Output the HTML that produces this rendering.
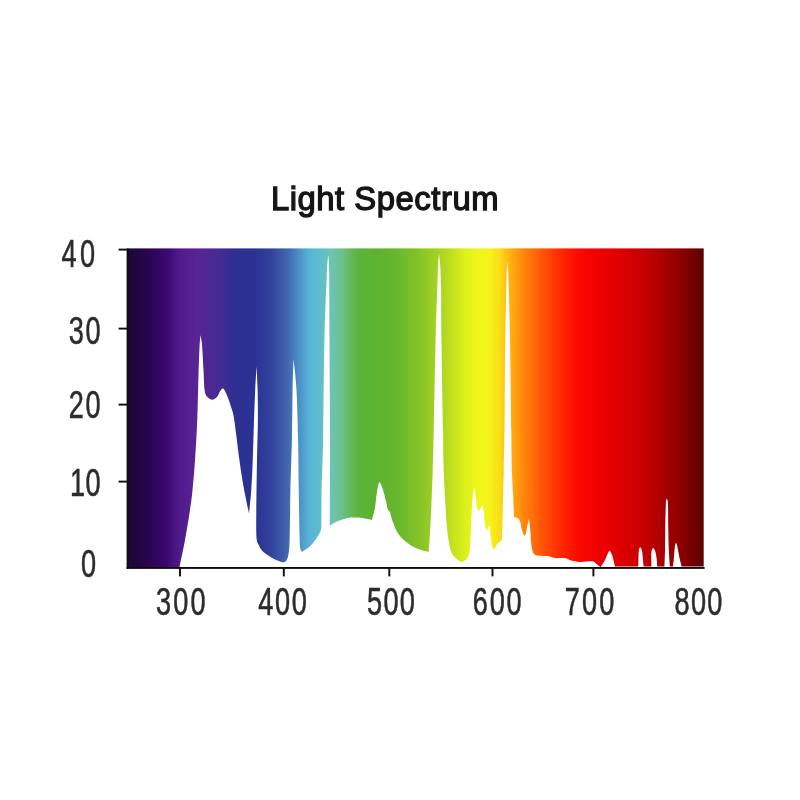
<!DOCTYPE html>
<html lang="en">
<head>
<meta charset="utf-8">
<title>Light Spectrum</title>
<style>
html,body{margin:0;padding:0;background:#fff;}
body{width:800px;height:800px;overflow:hidden;}
svg{display:block;}
.lb{font-family:"Liberation Sans",sans-serif;font-size:39.6px;fill:#2c2c2c;stroke:#2c2c2c;stroke-width:0.5px;vector-effect:non-scaling-stroke;}
.ttl{font-family:"Liberation Sans",sans-serif;font-size:32.8px;fill:#151515;stroke:#151515;stroke-width:1.3px;}
</style>
</head>
<body>
<svg width="800" height="800" viewBox="0 0 800 800">
<defs>
<linearGradient id="sp" gradientUnits="userSpaceOnUse" x1="127.5" y1="0" x2="704.0" y2="0"><stop offset="0.0000" stop-color="#1b0636"/><stop offset="0.0390" stop-color="#2a0452"/><stop offset="0.0668" stop-color="#3a0870"/><stop offset="0.0911" stop-color="#501b8b"/><stop offset="0.1188" stop-color="#5a2393"/><stop offset="0.1500" stop-color="#4a2a93"/><stop offset="0.1882" stop-color="#2d2f92"/><stop offset="0.2212" stop-color="#2b3294"/><stop offset="0.2507" stop-color="#33439d"/><stop offset="0.2784" stop-color="#4168b0"/><stop offset="0.2992" stop-color="#4d94c8"/><stop offset="0.3148" stop-color="#55b4d6"/><stop offset="0.3304" stop-color="#5cbdd0"/><stop offset="0.3547" stop-color="#6cc4b2"/><stop offset="0.3721" stop-color="#6cc08c"/><stop offset="0.3859" stop-color="#66ba5c"/><stop offset="0.3998" stop-color="#5db43e"/><stop offset="0.4293" stop-color="#5cb22f"/><stop offset="0.4692" stop-color="#68b72e"/><stop offset="0.5074" stop-color="#86c428"/><stop offset="0.5507" stop-color="#b2d920"/><stop offset="0.5854" stop-color="#def01b"/><stop offset="0.6114" stop-color="#f0f61a"/><stop offset="0.6305" stop-color="#f5f21a"/><stop offset="0.6461" stop-color="#fbdc17"/><stop offset="0.6574" stop-color="#ffbe12"/><stop offset="0.6756" stop-color="#ff9a0d"/><stop offset="0.6947" stop-color="#ff7a0a"/><stop offset="0.7242" stop-color="#ff4e06"/><stop offset="0.7554" stop-color="#ff2402"/><stop offset="0.7814" stop-color="#fc0a00"/><stop offset="0.8196" stop-color="#ee0000"/><stop offset="0.8630" stop-color="#da0000"/><stop offset="0.9063" stop-color="#be0000"/><stop offset="0.9445" stop-color="#9c0000"/><stop offset="0.9757" stop-color="#790000"/><stop offset="1.0000" stop-color="#5e0000"/></linearGradient>
<filter id="soft" x="-2%" y="-2%" width="104%" height="104%"><feGaussianBlur stdDeviation="0.35"/></filter>
</defs>
<rect x="0" y="0" width="800" height="800" fill="#ffffff"/>
<text class="ttl" x="270.9" y="210" textLength="227.6" lengthAdjust="spacing">Light Spectrum</text>
<rect x="127.5" y="248.4" width="576.2" height="319" fill="url(#sp)"/>
<path d="M179.40 567.50C180.33 562.92 183.23 549.58 185.00 540.00C186.77 530.42 188.75 518.33 190.00 510.00C191.25 501.67 191.67 498.33 192.50 490.00C193.33 481.67 194.21 471.67 195.00 460.00C195.79 448.33 196.67 434.17 197.25 420.00C197.83 405.83 198.11 387.33 198.50 375.00C198.89 362.67 199.25 352.67 199.60 346.00C199.95 339.33 200.43 336.83 200.60 335.00C200.85 336.83 201.62 340.17 202.10 346.00C202.58 351.83 203.08 362.67 203.50 370.00C203.92 377.33 203.98 385.53 204.60 390.00C205.22 394.47 205.88 395.18 207.20 396.80C208.52 398.43 210.78 399.84 212.50 399.75C214.22 399.66 216.25 397.67 217.50 396.25C218.75 394.83 219.07 392.54 220.00 391.25C220.93 389.96 222.06 388.08 223.10 388.50C224.14 388.92 225.31 391.83 226.25 393.75C227.19 395.67 227.92 397.71 228.75 400.00C229.58 402.29 230.44 404.83 231.25 407.50C232.06 410.17 232.77 411.42 233.60 416.00C234.43 420.58 235.28 427.67 236.25 435.00C237.22 442.33 238.18 451.33 239.40 460.00C240.62 468.67 242.00 478.08 243.60 487.00C245.20 495.92 248.10 509.08 249.00 513.50C249.38 509.58 250.62 498.92 251.25 490.00C251.88 481.08 252.29 471.67 252.75 460.00C253.21 448.33 253.59 431.67 254.00 420.00C254.41 408.33 254.77 398.96 255.20 390.00C255.63 381.04 256.37 370.21 256.60 366.25C256.77 370.21 257.38 381.04 257.60 390.00C257.82 398.96 258.00 408.33 257.90 420.00C257.80 431.67 257.27 445.00 257.00 460.00C256.73 475.00 256.38 497.08 256.30 510.00C256.22 522.92 256.09 531.67 256.50 537.50C256.91 543.33 257.83 542.83 258.75 545.00C259.67 547.17 260.54 548.83 262.00 550.50C263.46 552.17 265.12 553.42 267.50 555.00C269.88 556.58 273.54 558.79 276.25 560.00C278.96 561.21 281.86 562.58 283.75 562.25C285.64 561.92 286.66 560.88 287.60 558.00C288.54 555.12 289.00 551.33 289.40 545.00C289.80 538.67 289.83 529.17 290.00 520.00C290.17 510.83 290.08 503.33 290.40 490.00C290.72 476.67 291.53 456.67 291.90 440.00C292.27 423.33 292.33 403.54 292.60 390.00C292.87 376.46 293.35 363.96 293.50 358.75C294.00 363.96 295.73 376.46 296.50 390.00C297.27 403.54 297.73 423.33 298.10 440.00C298.48 456.67 298.50 474.17 298.75 490.00C299.00 505.83 299.35 525.33 299.60 535.00C299.85 544.67 299.87 545.17 300.25 548.00C300.63 550.83 301.62 551.33 301.90 552.00C302.50 551.58 304.15 550.46 305.50 549.50C306.85 548.54 308.21 548.04 310.00 546.25C311.79 544.46 314.48 541.29 316.25 538.75C318.02 536.21 319.74 533.12 320.60 531.00C321.46 528.88 321.27 526.83 321.40 526.00C321.43 520.00 321.32 504.33 321.60 490.00C321.88 475.67 322.63 465.00 323.10 440.00C323.57 415.00 323.78 367.50 324.40 340.00C325.02 312.50 326.28 288.00 326.80 275.00C327.32 262.00 327.25 265.28 327.50 262.00C327.75 258.72 328.17 256.42 328.30 255.30C328.40 256.42 328.75 258.72 328.90 262.00C329.05 265.28 329.10 262.00 329.20 275.00C329.30 288.00 329.37 312.50 329.50 340.00C329.63 367.50 329.96 409.00 330.00 440.00C330.04 471.00 329.79 511.67 329.75 526.00C330.29 525.60 331.71 524.39 333.00 523.60C334.29 522.81 335.08 522.20 337.50 521.25C339.92 520.30 344.58 518.51 347.50 517.90C350.42 517.29 352.50 517.57 355.00 517.60C357.50 517.63 359.68 517.70 362.50 518.10C365.32 518.50 370.33 519.68 371.90 520.00C372.42 517.92 374.17 512.08 375.00 507.50C375.83 502.92 376.17 496.71 376.90 492.50C377.63 488.29 378.37 482.67 379.40 482.25C380.43 481.83 381.96 486.62 383.10 490.00C384.24 493.38 385.50 499.38 386.25 502.50C387.00 505.62 386.98 507.18 387.60 508.75C388.23 510.32 389.60 511.38 390.00 511.90C390.52 513.67 391.85 519.07 393.10 522.50C394.35 525.93 395.73 529.58 397.50 532.50C399.27 535.42 401.25 537.71 403.75 540.00C406.25 542.29 409.58 544.58 412.50 546.25C415.42 547.92 418.54 549.06 421.25 550.00C423.96 550.94 427.50 551.58 428.75 551.90C428.96 548.67 429.58 539.90 430.00 532.50C430.42 525.10 430.79 517.92 431.25 507.50C431.71 497.08 432.33 482.92 432.75 470.00C433.17 457.08 433.27 451.67 433.75 430.00C434.23 408.33 435.02 363.33 435.60 340.00C436.18 316.67 436.83 302.50 437.25 290.00C437.67 277.50 437.79 270.97 438.10 265.00C438.41 259.03 438.93 256.00 439.10 254.20C439.28 256.00 439.88 259.03 440.20 265.00C440.52 270.97 440.78 277.50 441.00 290.00C441.22 302.50 441.17 316.67 441.50 340.00C441.83 363.33 442.62 408.33 443.00 430.00C443.38 451.67 443.32 457.08 443.75 470.00C444.18 482.92 444.98 497.08 445.60 507.50C446.23 517.92 446.67 525.42 447.50 532.50C448.33 539.58 449.35 545.83 450.60 550.00C451.85 554.17 453.12 555.52 455.00 557.50C456.88 559.48 459.82 561.90 461.90 561.90C463.98 561.90 466.15 559.90 467.50 557.50C468.85 555.10 469.38 553.75 470.00 547.50C470.62 541.25 470.79 528.42 471.25 520.00C471.71 511.58 472.23 502.42 472.75 497.00C473.27 491.58 474.12 489.08 474.40 487.50C474.60 488.75 475.18 491.75 475.60 495.00C476.02 498.25 476.33 504.40 476.90 507.00C477.47 509.60 478.07 511.03 479.00 510.60C479.93 510.17 481.92 505.43 482.50 504.40C482.71 505.54 483.29 507.65 483.75 511.25C484.21 514.85 484.73 522.88 485.25 526.00C485.77 529.12 486.21 530.17 486.90 530.00C487.59 529.83 488.98 525.83 489.40 525.00C489.60 526.67 490.18 531.67 490.60 535.00C491.02 538.33 491.38 542.67 491.90 545.00C492.42 547.33 492.92 549.10 493.75 549.00C494.58 548.90 496.07 545.48 496.90 544.40C497.73 543.32 497.92 543.13 498.75 542.50C499.58 541.87 501.38 540.92 501.90 540.60C502.00 537.17 502.30 527.60 502.50 520.00C502.70 512.40 502.89 503.33 503.10 495.00C503.31 486.67 503.52 480.83 503.75 470.00C503.98 459.17 504.25 451.67 504.50 430.00C504.75 408.33 504.93 364.17 505.25 340.00C505.57 315.83 506.14 296.67 506.40 285.00C506.66 273.33 506.63 273.87 506.80 270.00C506.97 266.13 507.30 263.17 507.40 261.80C507.52 263.17 507.88 266.13 508.10 270.00C508.32 273.87 508.38 273.33 508.70 285.00C509.02 296.67 509.57 315.83 510.00 340.00C510.43 364.17 510.93 408.33 511.25 430.00C511.57 451.67 511.59 459.17 511.90 470.00C512.21 480.83 512.75 487.17 513.10 495.00C513.45 502.83 513.85 513.33 514.00 517.00C514.58 517.18 516.50 517.39 517.50 518.10C518.50 518.81 519.27 519.27 520.00 521.25C520.73 523.23 521.07 527.61 521.90 530.00C522.73 532.39 524.07 536.43 525.00 535.60C525.93 534.77 526.83 527.81 527.50 525.00C528.17 522.19 528.75 519.79 529.00 518.75C529.21 520.62 529.88 525.88 530.25 530.00C530.62 534.12 530.77 539.75 531.25 543.50C531.73 547.25 532.06 550.48 533.10 552.50C534.14 554.52 534.89 554.98 537.50 555.60C540.11 556.23 545.83 555.83 548.75 556.25C551.67 556.67 552.29 557.79 555.00 558.10C557.71 558.41 562.29 557.68 565.00 558.10C567.71 558.52 568.75 559.97 571.25 560.60C573.75 561.23 576.46 561.79 580.00 561.90C583.54 562.01 589.79 560.94 592.50 561.25C595.21 561.56 594.90 562.76 596.25 563.75C597.60 564.74 599.88 566.62 600.60 567.20C601.33 566.00 603.75 562.40 605.00 560.00C606.25 557.60 607.27 554.30 608.10 552.80C608.93 551.30 609.27 550.42 610.00 551.00C610.73 551.58 611.67 553.68 612.50 556.25C613.33 558.82 614.58 564.71 615.00 566.40L638.20 566.40C638.23 565.33 638.33 562.23 638.40 560.00C638.47 557.77 638.47 554.83 638.60 553.00C638.73 551.17 638.95 549.97 639.20 549.00C639.45 548.03 639.77 547.27 640.10 547.20C640.43 547.13 640.85 547.80 641.20 548.60C641.55 549.40 641.90 550.10 642.20 552.00C642.50 553.90 642.77 557.60 643.00 560.00C643.23 562.40 643.50 565.33 643.60 566.40L651.40 566.40C651.38 565.33 651.32 562.23 651.30 560.00C651.28 557.77 651.18 554.75 651.30 553.00C651.42 551.25 651.68 550.33 652.00 549.50C652.32 548.67 652.77 547.95 653.20 548.00C653.63 548.05 654.20 549.05 654.60 549.80C655.00 550.55 655.23 550.80 655.60 552.50C655.97 554.20 656.53 557.68 656.80 560.00C657.07 562.32 657.13 565.33 657.20 566.40L664.40 566.40C664.50 563.67 664.87 556.07 665.00 550.00C665.13 543.93 665.07 537.50 665.20 530.00C665.33 522.50 665.62 510.00 665.80 505.00C665.98 500.00 666.13 501.10 666.30 500.00C666.47 498.90 666.62 498.40 666.80 498.40C666.98 498.40 667.20 498.90 667.40 500.00C667.60 501.10 667.85 500.00 668.00 505.00C668.15 510.00 668.17 522.50 668.30 530.00C668.43 537.50 668.53 543.93 668.80 550.00C669.07 556.07 669.72 563.67 669.90 566.40L672.90 566.40C673.03 565.33 673.43 562.73 673.70 560.00C673.97 557.27 674.25 552.50 674.50 550.00C674.75 547.50 674.93 546.17 675.20 545.00C675.47 543.83 675.78 542.92 676.10 543.00C676.42 543.08 676.78 544.33 677.10 545.50C677.42 546.67 677.52 547.58 678.00 550.00C678.48 552.42 679.40 557.27 680.00 560.00C680.60 562.73 681.33 565.33 681.60 566.40L704.50 566.40L704.5 569 L179.4 569Z" fill="#ffffff" filter="url(#soft)"/>
<rect x="126.6" y="248.6" width="2" height="320.3" fill="#0d0d0d"/>
<rect x="126.6" y="567" width="578" height="1.9" fill="#0d0d0d"/>
<text class="lb" transform="translate(61.52 267.00) scale(0.685 1)" textLength="48.85" lengthAdjust="spacing">40</text>
<rect x="118.6" y="248.65" width="9.5" height="1.9" fill="#0d0d0d"/>
<text class="lb" transform="translate(68.72 343.70) scale(0.685 1)" textLength="46.51" lengthAdjust="spacing">30</text>
<rect x="118.6" y="327.65" width="9.5" height="1.9" fill="#0d0d0d"/>
<text class="lb" transform="translate(68.72 418.30) scale(0.685 1)" textLength="46.51" lengthAdjust="spacing">20</text>
<rect x="118.6" y="403.65" width="9.5" height="1.9" fill="#0d0d0d"/>
<text class="lb" transform="translate(70.12 496.30) scale(0.685 1)" textLength="44.47" lengthAdjust="spacing">10</text>
<rect x="118.6" y="480.65" width="9.5" height="1.9" fill="#0d0d0d"/>
<text class="lb" transform="translate(81.12 577.00) scale(0.685 1)">0</text>
<text class="lb" transform="translate(156.02 615.40) scale(0.685 1)" textLength="72.20" lengthAdjust="spacing">300</text>
<rect x="179.05" y="568" width="1.9" height="8.4" fill="#0d0d0d"/>
<text class="lb" transform="translate(258.37 615.40) scale(0.685 1)" textLength="70.60" lengthAdjust="spacing">400</text>
<rect x="282.85" y="568" width="1.9" height="8.4" fill="#0d0d0d"/>
<text class="lb" transform="translate(367.12 615.40) scale(0.685 1)" textLength="69.50" lengthAdjust="spacing">500</text>
<rect x="388.35" y="568" width="1.9" height="8.4" fill="#0d0d0d"/>
<text class="lb" transform="translate(472.87 615.40) scale(0.685 1)" textLength="71.11" lengthAdjust="spacing">600</text>
<rect x="491.55" y="568" width="1.9" height="8.4" fill="#0d0d0d"/>
<text class="lb" transform="translate(564.72 615.40) scale(0.685 1)" textLength="72.28" lengthAdjust="spacing">700</text>
<rect x="592.45" y="568" width="1.9" height="8.4" fill="#0d0d0d"/>
<text class="lb" transform="translate(674.62 615.40) scale(0.685 1)" textLength="69.50" lengthAdjust="spacing">800</text>
</svg>
</body>
</html>
